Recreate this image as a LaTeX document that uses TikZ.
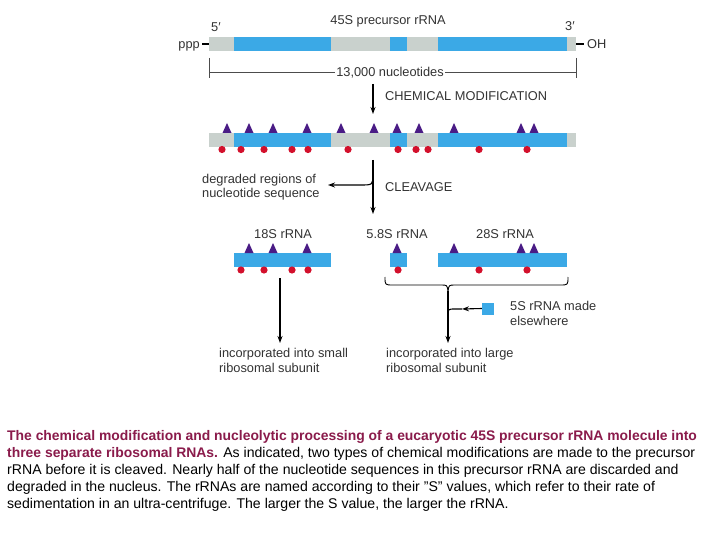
\documentclass[tikz,border=0pt]{standalone}
\usepackage{fontspec}
\setmainfont{Liberation Sans}
\usetikzlibrary{arrows.meta}

\definecolor{spacer}{HTML}{C9D1CD}
\definecolor{rrna}{HTML}{3BA9E6}
\definecolor{methyl}{HTML}{4A1C86}
\definecolor{pseudo}{HTML}{D3102C}
\definecolor{legend}{HTML}{8A1B4B}

\tikzstyle{lbl}=[font=\fontsize{12.8}{14.5}\selectfont, inner sep=0pt, text=black!80]
\tikzstyle{capline}=[anchor=base west, inner sep=0pt, font=\fontsize{14.1}{17}\selectfont]
\tikzstyle{to}=[-{Stealth[length=7pt,width=5pt]}, line width=1.1pt]
\tikzstyle{common}=[line width=1.1pt]

% one precursor strand, top edge at #1
\newcommand{\strand}[1]{
  \fill[spacer] (209,#1) rectangle (576,#1+14);
  \fill[rrna] (234,#1) rectangle (331,#1+14);
  \fill[rrna] (390,#1) rectangle (407,#1+14);
  \fill[rrna] (438,#1) rectangle (567,#1+14);
}

\begin{document}
\begin{tikzpicture}[x=1pt, y=-1pt]
  \useasboundingbox[fill=white] (0,0) rectangle (720,540);

  % precursor
  \node[lbl, anchor=base] (pre) at (388,25) {45S precursor rRNA};
  \node[lbl, anchor=base] (five) at (216,32) {5′};
  \node[lbl, anchor=base] (three) at (570,31) {3′};
  \strand{37}
  \node[lbl, anchor=base east] (ppp) at (200,49) {ppp};
  \node[lbl, anchor=base west] (oh) at (587,49) {OH};
  \draw[common, line width=1.4pt] (202,44) -- (209,44);
  \draw[common, line width=1.4pt] (576,44) -- (584,44);

  % length scale
  \draw[black!70, line width=0.8pt] (209,58) -- (209,78);
  \draw[black!70, line width=0.8pt] (576,58) -- (576,78);
  \draw[black!70, line width=0.8pt] (209,72) -- (576,72);
  \node[lbl, anchor=base, fill=white, inner xsep=1pt] (len) at (390,76.5) {13,000 nucleotides};

  % chemical modification
  \coordinate (m1) at (373,84);
  \coordinate (m2) at (373,114);
  \draw[to] (m1) -- (m2);
  \node[lbl, anchor=base west] (chem) at (385,100.5) {CHEMICAL MODIFICATION};

  \strand{133}
  \foreach \x in {227,249,273,307,341,374,397,419,454,521,534}
    \fill[methyl] (\x-4.5,133) -- (\x+4.5,133) -- (\x,123) -- cycle;
  \foreach \x in {222,241,264,292,308,348,398,416,428,479,527}
    \fill[pseudo] (\x,149.5) circle (3.6);

  % cleavage
  \coordinate (c1) at (373,160);
  \coordinate (c2) at (373,214);
  \coordinate (d1) at (373,174);
  \coordinate (d2) at (328,185);
  \draw[to] (c1) -- (c2);
  \draw[to] (d1) .. controls (373,185) .. (360,185) -- (d2);
  \node[lbl, anchor=base west] (cleave) at (385,191.5) {CLEAVAGE};
  \node[lbl, anchor=west, align=left] (waste) at (202,187) {degraded regions of\\nucleotide sequence};

  % mature rRNAs
  \node[lbl, anchor=base] (r18) at (283,238.5) {18S rRNA};
  \node[lbl, anchor=base] (r58) at (397,238.5) {5.8S rRNA};
  \node[lbl, anchor=base] (r28) at (505,238.5) {28S rRNA};
  \fill[rrna] (234,253) rectangle (331,267);
  \fill[rrna] (390,253) rectangle (407,267);
  \fill[rrna] (438,253) rectangle (567,267);
  \foreach \x in {249,273,307,397,454,521,534}
    \fill[methyl] (\x-4.5,253) -- (\x+4.5,253) -- (\x,243) -- cycle;
  \foreach \x in {241,264,292,308,398,479,527}
    \fill[pseudo] (\x,270) circle (3.6);

  % small subunit
  \coordinate (s1) at (280,278);
  \coordinate (s2) at (280,343);
  \draw[to] (s1) -- (s2);
  \node[lbl, anchor=west, align=left] (small) at (219,360.5) {incorporated into small\\ribosomal subunit};

  % large subunit
  \coordinate (b0) at (448,291);
  \coordinate (b1) at (448,343);
  \draw[common, line width=0.9pt] (385,277) .. controls (385,285) .. (393,285) -- (441,285)
    .. controls (447,285) .. (b0) .. controls (449,285) .. (455,285) -- (560,285)
    .. controls (568,285) .. (568,277);
  \draw[to] (b0) -- (b1);
  \node[fill=rrna, minimum size=12pt, inner sep=0pt] (five5) at (488,308.5) {};
  \coordinate (j1) at (462,309);
  \draw[to] (five5.west) -- (j1);
  \draw[common] (j1) -- (455,309) .. controls (448,309) .. (448,316);
  \node[lbl, anchor=west, align=left] (made) at (510,313.5) {5S rRNA made\\elsewhere};
  \node[lbl, anchor=west, align=left] (large) at (386,360.5) {incorporated into large\\ribosomal subunit};

  % caption
  \node[capline, text=legend, font=\fontsize{13.9}{17}\selectfont\bfseries] (cap1) at (7,440)
    {The chemical modification and nucleolytic processing of a eucaryotic 45S precursor rRNA molecule into};
  \node[capline] (cap2) at (7,457)
    {\textcolor{legend}{\fontsize{13.9}{17}\selectfont\bfseries three separate ribosomal RNAs.} As indicated, two types of chemical modifications are made to the precursor};
  \node[capline] (cap3) at (7,474)
    {rRNA before it is cleaved. Nearly half of the nucleotide sequences in this precursor rRNA are discarded and};
  \node[capline] (cap4) at (7,491)
    {degraded in the nucleus. The rRNAs are named according to their "S" values, which refer to their rate of};
  \node[capline] (cap5) at (7,508)
    {sedimentation in an ultra-centrifuge. The larger the S value, the larger the rRNA.};
\end{tikzpicture}
\end{document}
